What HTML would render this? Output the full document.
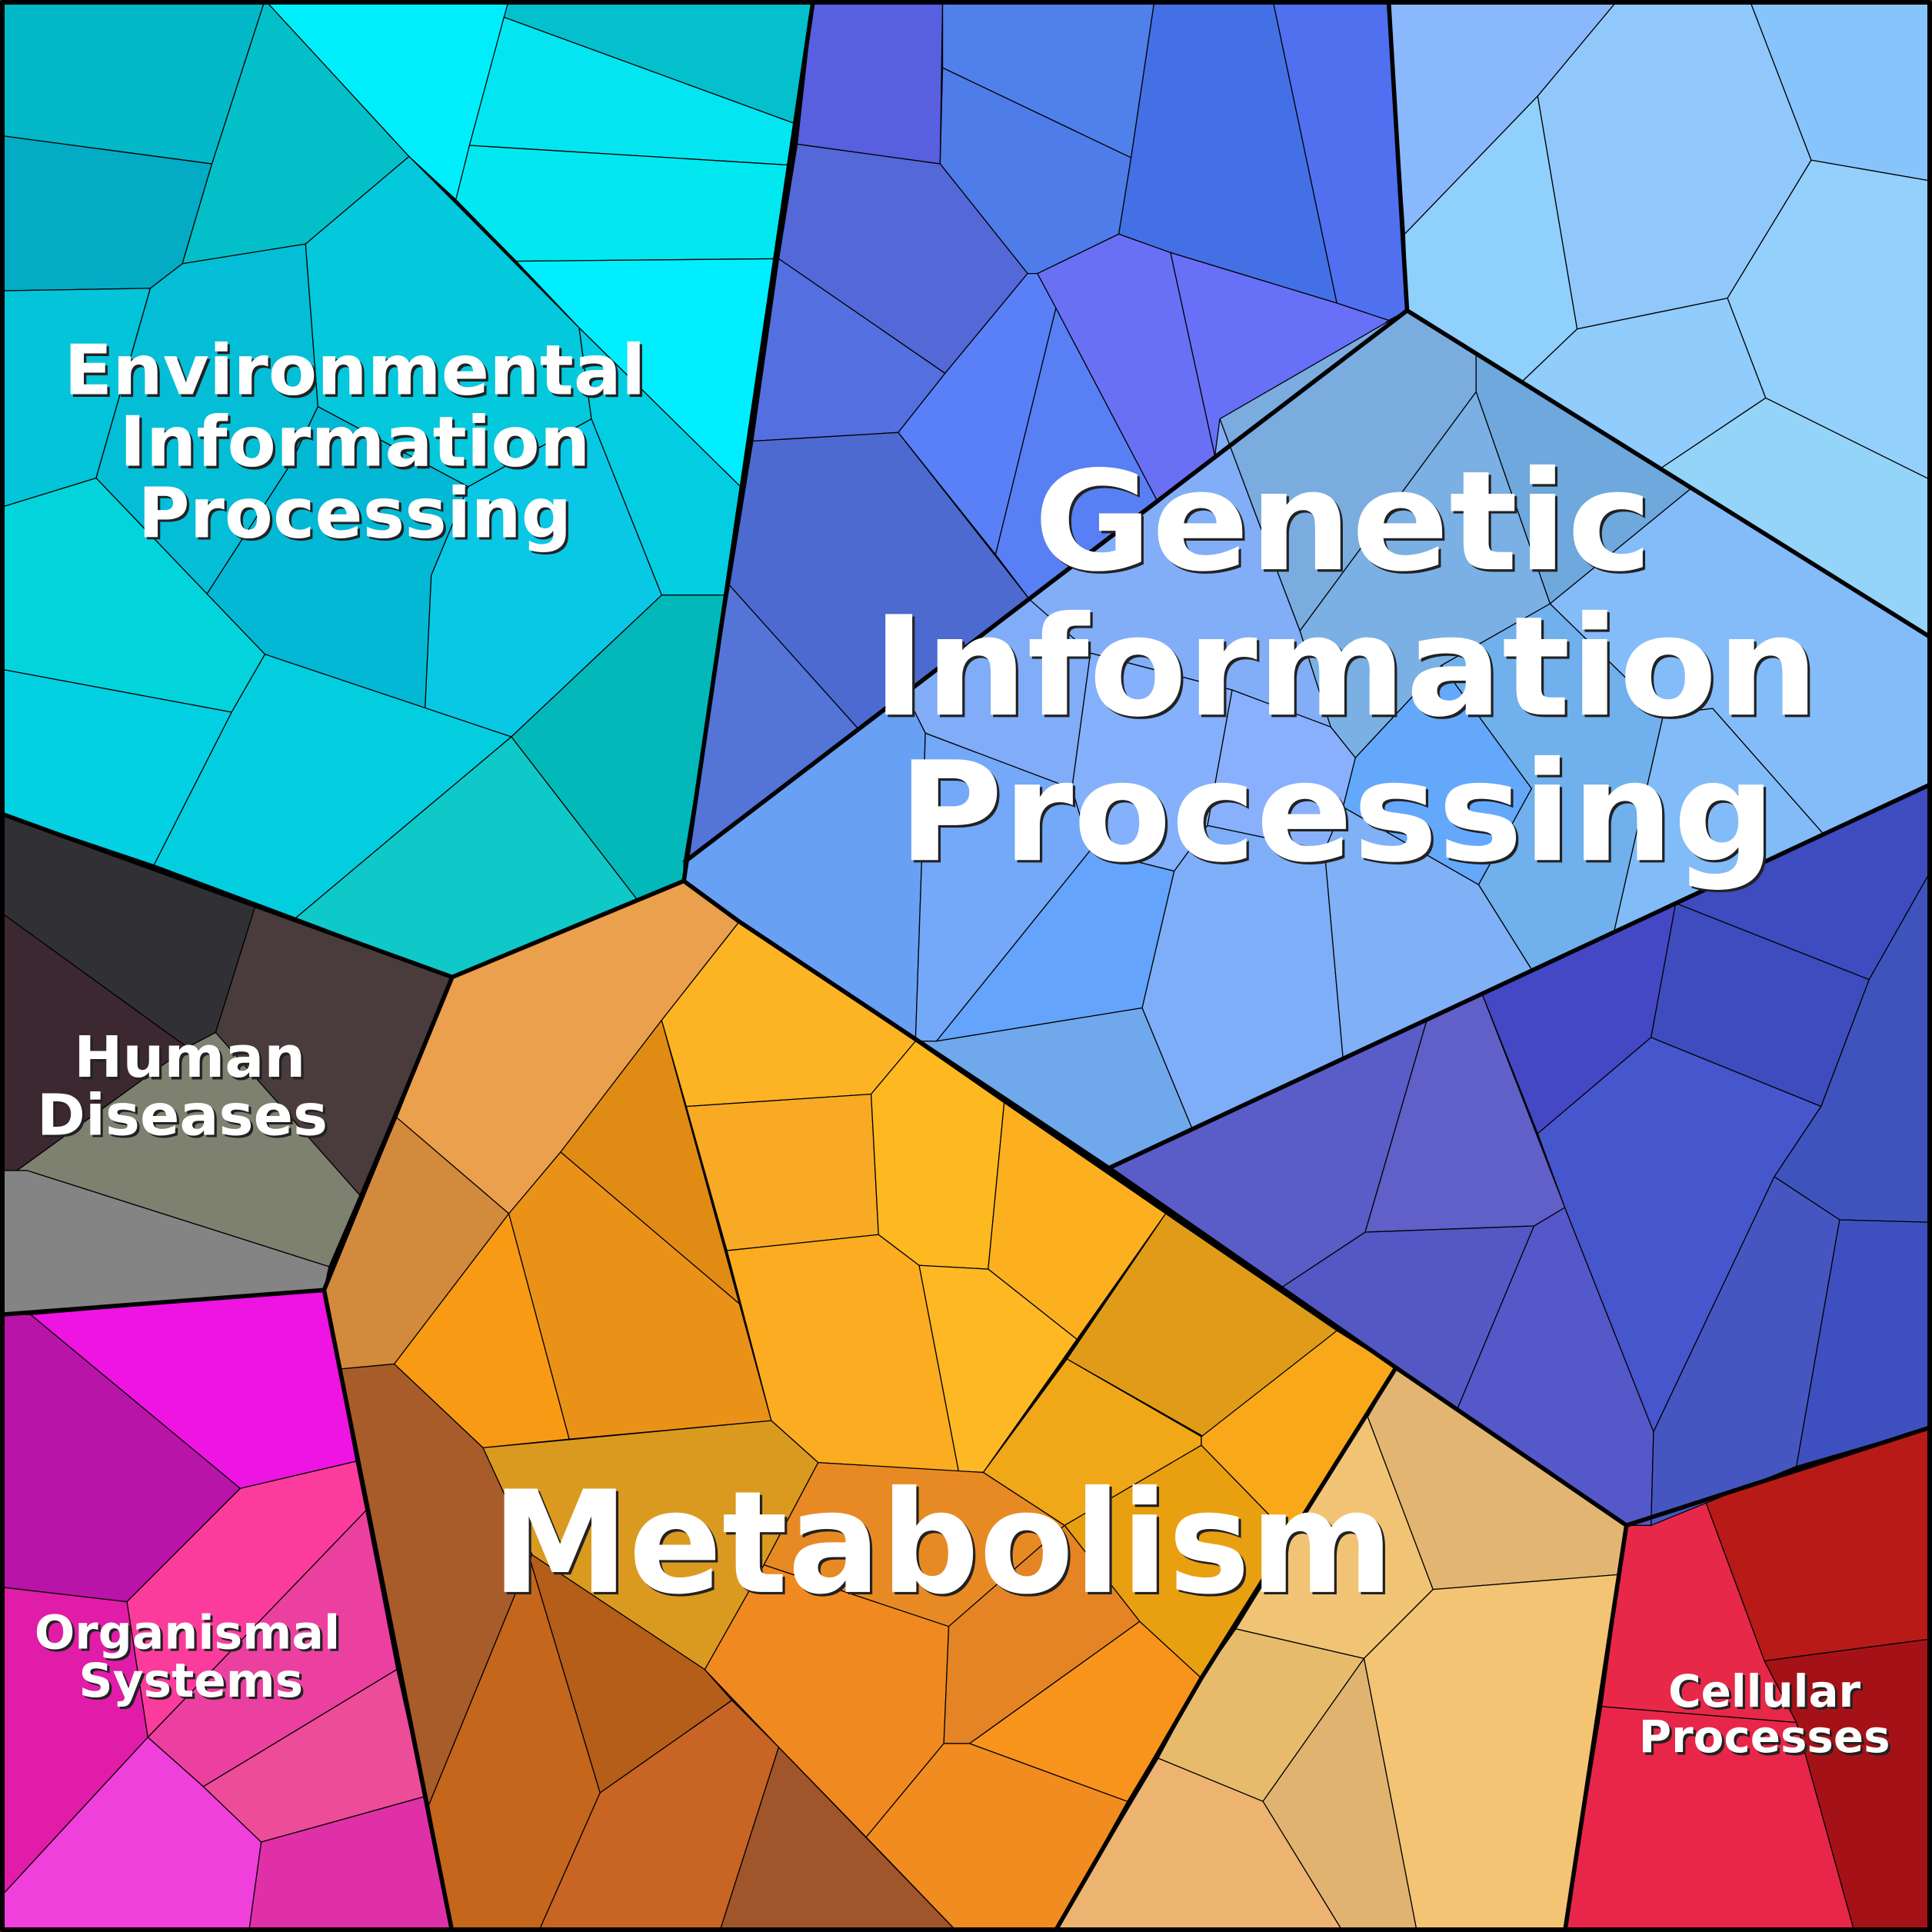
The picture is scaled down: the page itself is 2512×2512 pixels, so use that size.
<!DOCTYPE html>
<html><head><meta charset="utf-8"><style>html,body{margin:0;padding:0;background:#000}svg{display:block}</style></head>
<body>
<svg width="2512" height="2512" viewBox="0 0 1568 1568" xmlns="http://www.w3.org/2000/svg">
<g stroke="#000" stroke-width="0.8" stroke-linejoin="round">
<!-- Env -->
<polygon fill="#03b8c8" points="0,0 215,0 172,133 0,110"/>
<polygon fill="#03abc4" points="0,110 172,133 148,214 122,234 0,236"/>
<polygon fill="#03c0c8" points="215,0 332,127 248,198 148,214 172,133"/>
<polygon fill="#00eefc" points="215,0 413,0 370,162 332,127"/>
<polygon fill="#03c0cc" points="413,0 660,0 647,101 409,14"/>
<polygon fill="#03e6f2" points="409,14 647,101 641,134 381,118"/>
<polygon fill="#02e8f0" points="381,118 641,134 629,210 419,212 370,162"/>
<polygon fill="#00eeff" points="419,212 629,210 601,395 470,266"/>
<polygon fill="#03c4d8" points="0,236 122,234 78,388 0,412"/>
<polygon fill="#03bed6" points="122,234 148,214 248,198 258,330 235,378 168,482 78,388"/>
<polygon fill="#04c8dc" points="248,198 332,127 470,266 480,340 380,395 258,330"/>
<polygon fill="#03cde0" points="470,266 601,395 588,483 537,483 480,340"/>
<polygon fill="#03d4dc" points="0,412 78,388 168,482 215,531 188,578 0,543"/>
<polygon fill="#03b8d4" points="168,482 235,378 258,330 380,395 350,467 345,575 215,531"/>
<polygon fill="#09c8e6" points="350,467 380,395 480,340 537,483 415,598 345,575"/>
<polygon fill="#03d0e2" points="0,543 188,578 125,702 0,660"/>
<polygon fill="#03cee0" points="188,578 215,531 415,598 240,745 125,702"/>
<polygon fill="#02b8b8" points="415,598 537,483 588,483 555,715 517,730"/>
<polygon fill="#0fc8c8" points="240,745 415,598 517,730 367,793"/>
<!-- Human Diseases -->
<polygon fill="#303035" points="0,660 207,736 175,838 152,850 0,740"/>
<polygon fill="#3c2830" points="0,740 152,850 0,960"/>
<polygon fill="#4a3c3c" points="207,736 367,793 292,970 175,838"/>
<polygon fill="#7e8070" points="0,960 152,850 175,838 292,970 267,1028 22,950"/>
<polygon fill="#848484" points="0,950 22,950 267,1028 263,1047 0,1067"/>
<!-- Organismal -->
<polygon fill="#b814a8" points="0,1067 25,1067 195,1208 103,1300 0,1288"/>
<polygon fill="#ee14e2" points="25,1067 263,1047 289,1186 195,1208"/>
<polygon fill="#fc3c9c" points="195,1208 289,1186 297,1226 120,1410 103,1300"/>
<polygon fill="#ec40a0" points="297,1226 322,1355 165,1450 120,1410"/>
<polygon fill="#e01ca8" points="0,1288 103,1300 120,1410 0,1540"/>
<polygon fill="#f040dc" points="120,1410 165,1450 212,1495 202,1568 0,1568 0,1540"/>
<polygon fill="#ec4c98" points="165,1450 322,1355 345,1458 212,1495"/>
<polygon fill="#e030a8" points="212,1495 345,1458 367,1568 202,1568"/>
<!-- Metabolism -->
<polygon fill="#eaa04c" points="367,793 555,715 600,748 537,828 455,935 413,985 322,907"/>
<polygon fill="#d28a3c" points="263,1047 322,907 413,985 320,1107 277,1111"/>
<polygon fill="#f89a14" points="320,1107 413,985 462,1168 392,1175"/>
<polygon fill="#ea9218" points="413,985 455,935 600,1058 626,1153 462,1168"/>
<polygon fill="#e08c14" points="455,935 537,828 600,1058"/>
<polygon fill="#fcb424" points="537,828 600,748 743,845 707,888 557,898"/>
<polygon fill="#f8aa24" points="557,898 707,888 713,1002 590,1015"/>
<polygon fill="#fcac20" points="590,1015 713,1002 746,1027 778,1194 664,1187 626,1153"/>
<polygon fill="#feb820" points="707,888 743,845 815,895 802,1030 746,1027 713,1002"/>
<polygon fill="#fcb020" points="815,895 946,985 874,1087 802,1030"/>
<polygon fill="#feb824" points="746,1027 802,1030 874,1087 798,1195 778,1194"/>
<polygon fill="#e09c18" points="946,985 1085,1080 977,1166 866,1103"/>
<polygon fill="#f0a818" points="798,1195 866,1103 975,1166 975,1173 864,1238"/>
<polygon fill="#f8a818" points="975,1166 1085,1080 1133,1110 1050,1250 975,1173"/>
<polygon fill="#e8a010" points="975,1173 1050,1250 975,1362 925,1316 864,1238"/>
<polygon fill="#da9a20" points="392,1175 626,1153 664,1187 620,1270 572,1355 432,1262"/>
<polygon fill="#a85c2a" points="277,1111 320,1107 392,1175 432,1262 430,1265 348,1465"/>
<polygon fill="#c4661c" points="348,1465 430,1265 487,1455 437,1568 367,1568"/>
<polygon fill="#b45e1a" points="430,1265 432,1262 572,1355 594,1380 487,1455"/>
<polygon fill="#c86424" points="437,1568 487,1455 594,1380 632,1418 584,1568"/>
<polygon fill="#a0562a" points="584,1568 632,1418 777,1568"/>
<polygon fill="#f08a20" points="572,1355 620,1270 770,1320 766,1415 703,1491 632,1418"/>
<polygon fill="#e88a24" points="664,1187 798,1195 864,1238 770,1320 620,1270"/>
<polygon fill="#e48424" points="770,1320 864,1238 925,1316 787,1415 766,1415"/>
<polygon fill="#f08c20" points="703,1491 766,1415 787,1415 915,1462 856,1568 777,1568"/>
<polygon fill="#f8941c" points="787,1415 925,1316 975,1362 915,1462"/>
<!-- tan -->
<polygon fill="#e2b672" points="1133,1110 1320,1238 1313,1278 1163,1290 1110,1150"/>
<polygon fill="#f0c474" points="1133,1110 1110,1150 1163,1290 1107,1346 1003,1322"/>
<polygon fill="#f2c474" points="1163,1290 1313,1278 1270,1568 1150,1568 1107,1346"/>
<polygon fill="#e6bc6c" points="1003,1322 1107,1346 1025,1462 940,1427 975,1362"/>
<polygon fill="#e0b470" points="1107,1346 1150,1568 1090,1568 1025,1462"/>
<polygon fill="#ecb470" points="940,1427 1025,1462 1090,1568 856,1568"/>
<!-- Cellular -->
<polygon fill="#e82848" points="1320,1238 1384,1218 1432,1348 1458,1398 1300,1385"/>
<polygon fill="#b81a18" points="1384,1218 1568,1158 1568,1330 1432,1348"/>
<polygon fill="#a41218" points="1432,1348 1568,1330 1568,1568 1505,1568 1458,1398"/>
<polygon fill="#e8264a" points="1300,1385 1458,1398 1505,1568 1270,1568"/>
<!-- Genetic dark top -->
<polygon fill="#5860e0" points="660,0 765,0 763,133 647,117"/>
<polygon fill="#5080ea" points="765,0 937,0 918,128 765,55"/>
<polygon fill="#4e7ce8" points="765,55 918,128 908,190 842,222 834,222 763,133"/>
<polygon fill="#4470e6" points="937,0 1033,0 1085,246 950,205 908,190 918,128"/>
<polygon fill="#5070f0" points="1033,0 1127,0 1142,252 1127,260 1085,246"/>
<polygon fill="#5468d8" points="647,117 763,133 834,222 767,303 632,210"/>
<polygon fill="#5470e0" points="632,210 767,303 729,351 611,358"/>
<polygon fill="#5a80f8" points="767,303 834,222 842,222 857,250 808,450 729,351"/>
<polygon fill="#5880f4" points="857,250 940,408 836,487 808,450"/>
<polygon fill="#6a70f4" points="842,222 908,190 950,205 986,370 940,408 857,250"/>
<polygon fill="#6870f8" points="950,205 1085,246 1127,260 986,370"/>
<polygon fill="#4c6ad0" points="611,358 729,351 836,487 735,563 697,592 592,475"/>
<polygon fill="#5474d8" points="592,475 697,592 555,700"/>
<!-- light top right -->
<polygon fill="#8ab8fc" points="1127,0 1313,0 1248,78 1140,190"/>
<polygon fill="#90d0fc" points="1140,190 1248,78 1280,267 1235,310 1198,288 1142,252"/>
<polygon fill="#90c8fc" points="1313,0 1420,0 1470,130 1402,242 1280,267 1248,78"/>
<polygon fill="#88c4fc" points="1420,0 1568,0 1568,147 1470,130"/>
<polygon fill="#94d0fc" points="1470,130 1568,147 1568,390 1433,323 1402,242"/>
<polygon fill="#90ccfc" points="1280,267 1402,242 1433,323 1348,380 1235,310"/>
<polygon fill="#94d4f8" points="1348,380 1433,323 1568,390 1568,518 1373,396"/>
<polygon fill="#92d0fc" points="1198,288 1235,310 1348,380 1373,396"/>
<!-- Genetic mid -->
<polygon fill="#7aace0" points="990,340 1142,252 1198,288 1198,318 1055,512 1020,420"/>
<polygon fill="#6ea8dc" points="1198,288 1373,396 1258,490 1198,318"/>
<polygon fill="#7ab0e4" points="1055,512 1198,318 1258,490 1170,540 1100,615 1080,590"/>
<polygon fill="#84bcfa" points="1373,396 1568,518 1568,636 1480,677 1390,575 1350,580 1258,490"/>
<polygon fill="#70b0ec" points="1258,490 1350,580 1310,756 1245,790 1200,718 1243,640 1170,540"/>
<polygon fill="#64a8fc" points="1100,615 1170,540 1243,640 1200,718 1090,655"/>
<polygon fill="#82bcf8" points="1350,580 1390,575 1480,677 1310,756"/>
<polygon fill="#82aef8" points="836,487 940,408 986,370 990,340 1020,420 1055,512 1080,590 1000,560 885,530"/>
<polygon fill="#80acf8" points="735,563 836,487 885,530 870,640 751,595"/>
<polygon fill="#68a0f4" points="555,700 697,592 735,563 751,595 748,700 743,845 600,748 555,715"/>
<polygon fill="#74a8f8" points="751,595 870,640 885,690 760,845 743,845 748,700"/>
<polygon fill="#84b0fc" points="870,640 885,530 1000,560 980,670 953,707 885,690"/>
<polygon fill="#88b0fc" points="1000,560 1080,590 1100,615 1090,655 1075,690 980,670"/>
<polygon fill="#64a4fc" points="760,845 885,690 953,707 927,818"/>
<polygon fill="#70a8ec" points="743,845 760,845 927,818 968,917 900,948"/>
<polygon fill="#7eaef8" points="953,707 980,670 1075,690 1090,859 968,917 927,818"/>
<polygon fill="#80b0f6" points="1075,690 1090,655 1200,718 1245,790 1090,859"/>
<!-- dark blue bottom right -->
<polygon fill="#5a5cc8" points="900,948 1158,828 1108,1000 1040,1045 1133,1110"/>
<polygon fill="#6060c8" points="1158,828 1203,807 1270,980 1245,995 1108,1000"/>
<polygon fill="#5458c4" points="1040,1045 1108,1000 1245,995 1183,1143 1133,1110"/>
<polygon fill="#5458c8" points="1183,1143 1245,995 1270,980 1342,1162 1340,1238 1320,1238"/>
<polygon fill="#4448c4" points="1203,807 1360,733 1340,842 1248,920"/>
<polygon fill="#3e4cbe" points="1360,733 1517,795 1478,898 1340,842"/>
<polygon fill="#3e4cc0" points="1360,733 1568,636 1568,705 1517,795"/>
<polygon fill="#4656cc" points="1248,920 1340,842 1478,898 1440,955 1342,1162 1270,980"/>
<polygon fill="#3e54bc" points="1517,795 1568,705 1568,992 1493,990 1440,955 1478,898"/>
<polygon fill="#4656c0" points="1342,1162 1440,955 1493,990 1458,1190 1340,1238"/>
<polygon fill="#3e50c0" points="1493,990 1568,992 1568,1158 1458,1190"/>
</g>
<g fill="none" stroke="#000" stroke-width="3.5" stroke-linejoin="round">
<polyline points="660,0 555,715 367,793 0,660"/>
<polyline points="367,793 263,1047 0,1067"/>
<polyline points="263,1047 367,1568"/>
<polyline points="555,715 600,748 900,948 1133,1110 1320,1238 1568,1158"/>
<polyline points="1320,1238 1270,1568"/>
<polyline points="1133,1110 975,1362 856,1568"/>
<polyline points="1127,0 1142,252 555,700"/>
<polyline points="1142,252 1568,518"/>
<polyline points="900,948 1568,636"/>
<rect x="2" y="2" width="1564" height="1564"/>
</g>
<g font-family="'DejaVu Sans','Liberation Sans',sans-serif" font-weight="bold" text-anchor="middle">
<g fill="#222" transform="translate(2,2)">
<text x="288" y="320" font-size="56" textLength="472" lengthAdjust="spacingAndGlyphs">Environmental</text>
<text x="288" y="378" font-size="56" textLength="382" lengthAdjust="spacingAndGlyphs">Information</text>
<text x="288" y="436" font-size="56" textLength="352" lengthAdjust="spacingAndGlyphs">Processing</text>
<text x="1090" y="462" font-size="112" textLength="502" lengthAdjust="spacingAndGlyphs">Genetic</text>
<text x="1092" y="580" font-size="112" textLength="768" lengthAdjust="spacingAndGlyphs">Information</text>
<text x="1085" y="698" font-size="112" textLength="712" lengthAdjust="spacingAndGlyphs">Processing</text>
<text x="765" y="1292" font-size="115" textLength="732" lengthAdjust="spacingAndGlyphs">Metabolism</text>
<text x="154" y="874" font-size="46" textLength="188" lengthAdjust="spacingAndGlyphs">Human</text>
<text x="148" y="921" font-size="46" textLength="236" lengthAdjust="spacingAndGlyphs">Diseases</text>
<text x="152" y="1338" font-size="38" textLength="248" lengthAdjust="spacingAndGlyphs">Organismal</text>
<text x="155" y="1377" font-size="38" textLength="182" lengthAdjust="spacingAndGlyphs">Systems</text>
<text x="1432" y="1385" font-size="36" textLength="156" lengthAdjust="spacingAndGlyphs">Cellular</text>
<text x="1432" y="1422" font-size="36" textLength="204" lengthAdjust="spacingAndGlyphs">Processes</text>
</g>
<g fill="#fff">
<text x="288" y="320" font-size="56" textLength="472" lengthAdjust="spacingAndGlyphs">Environmental</text>
<text x="288" y="378" font-size="56" textLength="382" lengthAdjust="spacingAndGlyphs">Information</text>
<text x="288" y="436" font-size="56" textLength="352" lengthAdjust="spacingAndGlyphs">Processing</text>
<text x="1090" y="462" font-size="112" textLength="502" lengthAdjust="spacingAndGlyphs">Genetic</text>
<text x="1092" y="580" font-size="112" textLength="768" lengthAdjust="spacingAndGlyphs">Information</text>
<text x="1085" y="698" font-size="112" textLength="712" lengthAdjust="spacingAndGlyphs">Processing</text>
<text x="765" y="1292" font-size="115" textLength="732" lengthAdjust="spacingAndGlyphs">Metabolism</text>
<text x="154" y="874" font-size="46" textLength="188" lengthAdjust="spacingAndGlyphs">Human</text>
<text x="148" y="921" font-size="46" textLength="236" lengthAdjust="spacingAndGlyphs">Diseases</text>
<text x="152" y="1338" font-size="38" textLength="248" lengthAdjust="spacingAndGlyphs">Organismal</text>
<text x="155" y="1377" font-size="38" textLength="182" lengthAdjust="spacingAndGlyphs">Systems</text>
<text x="1432" y="1385" font-size="36" textLength="156" lengthAdjust="spacingAndGlyphs">Cellular</text>
<text x="1432" y="1422" font-size="36" textLength="204" lengthAdjust="spacingAndGlyphs">Processes</text>
</g>
</g>
</svg>
</body></html>
